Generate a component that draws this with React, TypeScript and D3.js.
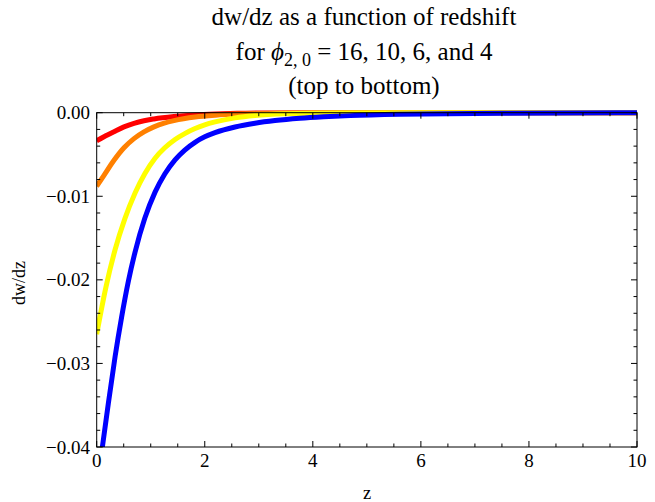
import React from "react";
import * as d3 from "d3";

const W = 655;
const H = 502;

const xTicksMajor = [0, 2, 4, 6, 8, 10];
const yTicksMajor = [0, -0.01, -0.02, -0.03, -0.04];
const yTickLabels = ["0.00", "\u22120.01", "\u22120.02", "\u22120.03", "\u22120.04"];

const zRed = [0, 0.135, 0.32, 0.505, 0.69, 0.875, 1.06, 1.43, 1.82, 2.2, 2.6, 3.3, 4.5, 10];
const vRed = [-0.00335, -0.00287, -0.00227, -0.0017, -0.00127, -0.00096, -0.00075, -0.00046, -0.00026, -0.00015, -0.00008, -0.00003, -0.00001, 0];

const zOrange = [0, 0.135, 0.32, 0.505, 0.69, 0.875, 1.06, 1.25, 1.43, 1.82, 2.2, 2.6, 3.0, 3.5, 4.5, 10];
const vOrange = [-0.0088, -0.0075, -0.0057, -0.0042, -0.0031, -0.0023, -0.0017, -0.00125, -0.00095, -0.00052, -0.0003, -0.00017, -0.0001, -0.00005, -0.00002, 0];

const zYellow = [0, 0.17, 0.34, 0.52, 0.71, 0.89, 1.08, 1.26, 1.45, 1.63, 1.82, 2.0, 2.19, 2.56, 2.93, 3.5, 4.5, 6, 10];
const vYellow = [-0.0265, -0.0209, -0.0164, -0.0127, -0.0096, -0.0073, -0.00545, -0.0042, -0.0032, -0.0025, -0.0019, -0.00145, -0.0011, -0.00062, -0.00033, -0.00013, -0.00003, -0.000005, 0];

const zBlue = [0, 0.105, 0.215, 0.34, 0.46, 0.585, 0.71, 0.89, 1.08, 1.26, 1.45, 1.63, 1.82, 2.0, 2.19, 2.56, 2.93, 3.3, 3.76, 4.2, 4.69, 5.6, 6.5, 7.5, 10];
const vBlue = [-0.0454, -0.04, -0.0348, -0.0292, -0.0245, -0.0202, -0.01667, -0.01264, -0.0095, -0.00733, -0.00564, -0.00447, -0.00354, -0.00289, -0.00239, -0.00171, -0.00126, -0.00094, -0.000666, -0.00049, -0.00035, -0.000194, -0.000111, -0.000061, -0.000014];

const seriesList = [
  { name: "16", z: zRed, v: vRed, color: "#ff0000" },
  { name: "10", z: zOrange, v: vOrange, color: "#ff8000" },
  { name: "6", z: zYellow, v: vYellow, color: "#ffff00" },
  { name: "4", z: zBlue, v: vBlue, color: "#0000ff" },
];

const left = 96.7;
const right = 637;
const top = 112.7;
const bottom = 447;

export default function App() {
  const x = d3.scaleLinear().domain([0, 10]).range([left, right]);
  const y = d3.scaleLinear().domain([-0.04, 0]).range([bottom, top]);
  const xMinor = d3.range(0, 10.001, 0.5).filter((t) => Math.abs(t / 2 - Math.round(t / 2)) > 1e-6);
  const yMinor = d3.range(0, -0.0401, -0.002).filter((t) => Math.abs(t / 0.01 - Math.round(t / 0.01)) > 1e-6);
  const line = d3
    .line<[number, number]>()
    .x((d) => x(d[0]))
    .y((d) => y(d[1]))
    .curve(d3.curveMonotoneX);
  const font = "'Liberation Serif', 'Times New Roman', serif";
  const majLen = 6;
  const minLen = 3.5;
  const tx = 364;
  return (
    <svg width={W} height={H} style={{ position: "absolute", left: 0, top: 0, background: "#fff" }} fontFamily={font}>
      <defs>
        <clipPath id="plotclip">
          <rect x={left} y={top - 4} width={right - left + 3} height={bottom - top + 4} />
        </clipPath>
      </defs>
      <text x={tx} y={25} fontSize={25} textAnchor="middle" fill="#000">dw/dz as a function of redshift</text>
      <text x={tx} y={60} fontSize={25} textAnchor="middle" fill="#000">
        for <tspan fontStyle="italic">{"\u03d5"}</tspan>
        <tspan fontSize={18} dy={6}>2, 0</tspan>
        <tspan dy={-6}> = 16, 10, 6, and 4</tspan>
      </text>
      <text x={tx} y={94} fontSize={25} textAnchor="middle" fill="#000">(top to bottom)</text>

      <g clipPath="url(#plotclip)">
        {seriesList.map((s) => (
          <path
            key={s.name}
            d={line(s.z.map((z, i) => [z, s.v[i]] as [number, number])) || ""}
            fill="none"
            stroke={s.color}
            strokeWidth={5}
            strokeLinejoin="round"
          />
        ))}
      </g>

      <rect x={left} y={top} width={right - left} height={bottom - top} fill="none" stroke="#000" strokeWidth={1} />
      {xTicksMajor.map((t) => (
        <g key={"xm" + t}>
          <line x1={x(t)} x2={x(t)} y1={bottom} y2={bottom - majLen} stroke="#000" />
          <line x1={x(t)} x2={x(t)} y1={top} y2={top + majLen} stroke="#000" />
          <text x={x(t)} y={467} fontSize={19} textAnchor="middle" fill="#000">{t}</text>
        </g>
      ))}
      {xMinor.map((t) => (
        <g key={"xn" + t}>
          <line x1={x(t)} x2={x(t)} y1={bottom} y2={bottom - minLen} stroke="#000" />
          <line x1={x(t)} x2={x(t)} y1={top} y2={top + minLen} stroke="#000" />
        </g>
      ))}
      {yTicksMajor.map((t, i) => (
        <g key={"ym" + i}>
          <line x1={left} x2={left + majLen} y1={y(t)} y2={y(t)} stroke="#000" />
          <line x1={right} x2={right - majLen} y1={y(t)} y2={y(t)} stroke="#000" />
          <text x={90} y={y(t) + 6.5} fontSize={19} textAnchor="end" fill="#000">{yTickLabels[i]}</text>
        </g>
      ))}
      {yMinor.map((t, i) => (
        <g key={"yn" + i}>
          <line x1={left} x2={left + minLen} y1={y(t)} y2={y(t)} stroke="#000" />
          <line x1={right} x2={right - minLen} y1={y(t)} y2={y(t)} stroke="#000" />
        </g>
      ))}
      <text x={367} y={499} fontSize={18.5} textAnchor="middle" fill="#000">z</text>
      <text transform={`translate(25,283) rotate(-90)`} fontSize={18} textAnchor="middle" fill="#000">dw/dz</text>
    </svg>
  );
}
